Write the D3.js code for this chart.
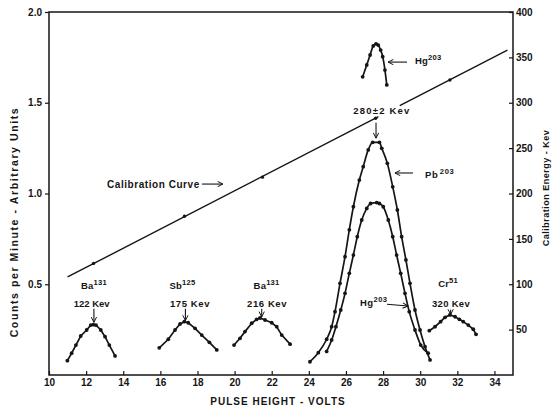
<!DOCTYPE html>
<html>
<head>
<meta charset="utf-8">
<script src="https://cdn.jsdelivr.net/npm/d3@7"></script>
<style>
  body { margin: 0; background: #fff; }
  svg text { font-family: "Liberation Sans", Arial, sans-serif; font-weight: bold; fill: #151515; }
</style>
</head>
<body>
<svg id="chart" width="552" height="410"></svg>
<script>
// tick values
const xTicks = [10, 12, 14, 16, 18, 20, 22, 24, 26, 28, 30, 32, 34];
const yTicksLeft = [0.5, 1.0, 1.5, 2.0];
const yTicksRight = [50, 100, 150, 200, 250, 300, 350, 400];

// calibration points (pulse height volts, energy kev)
const calVolts = [12.4, 17.3, 21.5, 27.6, 31.6];
const calKev = [123, 175, 218, 283, 325];
// drawn straight calibration line, ends and the gap left for the label
const calFitVolts = [11, 34.7];
const calFitKev = [108, 358];
const calGapVolts = [27.75, 28.9];

// spectra: pulse height (volts) and counts per minute
const ba122V = [10.99, 11.22, 11.45, 11.71, 12.03, 12.25, 12.39, 12.53, 12.79, 13.02, 13.25, 13.56];
const ba122C = [0.079, 0.12, 0.165, 0.215, 0.248, 0.275, 0.277, 0.275, 0.248, 0.211, 0.165, 0.105];
const sb175V = [15.94, 16.43, 16.79, 17.06, 17.29, 17.5, 17.87, 18.23, 18.64, 19.04];
const sb175C = [0.15, 0.197, 0.248, 0.281, 0.294, 0.288, 0.257, 0.22, 0.18, 0.138];
const ba216V = [19.97, 20.29, 20.56, 20.92, 21.19, 21.37, 21.64, 22.0, 22.27, 22.54, 22.99];
const ba216C = [0.165, 0.202, 0.239, 0.285, 0.307, 0.314, 0.303, 0.288, 0.266, 0.22, 0.17];
const pbV = [24.06, 24.51, 24.96, 25.23, 25.41, 25.68, 25.95, 26.18, 26.4, 26.72, 26.93, 27.2, 27.44,
             27.8, 27.93, 28.23, 28.52, 28.77, 29.0, 29.23, 29.45, 29.72, 29.99, 30.26, 30.53];
const pbC = [0.073, 0.123, 0.197, 0.266, 0.349, 0.505, 0.652, 0.8, 0.927, 1.074, 1.148, 1.24, 1.282,
             1.282, 1.249, 1.166, 1.037, 0.909, 0.762, 0.634, 0.505, 0.358, 0.248, 0.156, 0.083];
const hgV = [24.96, 25.23, 25.46, 25.72, 25.95, 26.18, 26.4, 26.61, 26.85, 27.12, 27.33, 27.66, 27.8,
             28.01, 28.28, 28.52, 28.73, 28.95, 29.18, 29.41, 29.72, 30.03, 30.43];
const hgC = [0.13, 0.193, 0.266, 0.358, 0.45, 0.56, 0.661, 0.762, 0.854, 0.918, 0.945, 0.95, 0.945,
             0.927, 0.854, 0.762, 0.661, 0.56, 0.45, 0.349, 0.248, 0.165, 0.12];
const hgTopV = [26.9, 27.12, 27.3, 27.47, 27.62, 27.74, 27.87, 27.98, 28.1, 28.2];
const hgTopC = [1.643, 1.708, 1.763, 1.813, 1.824, 1.818, 1.79, 1.754, 1.68, 1.598];
const crV = [30.49, 30.8, 31.1, 31.34, 31.6, 31.88, 32.11, 32.32, 32.59, 32.86, 33.01];
const crC = [0.244, 0.266, 0.294, 0.318, 0.331, 0.321, 0.307, 0.294, 0.275, 0.252, 0.224];

// text labels (volts, counts)
const labels = [
  { t: "Ba", sup: "131", v: 12.42, c: 0.474, a: "middle", size: 9.5, ls: 0.2 },
  { t: "122 Kev", v: 12.3, c: 0.375, a: "middle", size: 9.5, ls: 0 },
  { t: "Sb", sup: "125", v: 17.19, c: 0.474, a: "middle", size: 9.5, ls: 0.2 },
  { t: "175 Kev", v: 17.6, c: 0.375, a: "middle", size: 9.5, ls: 0.6 },
  { t: "Ba", sup: "131", v: 21.72, c: 0.474, a: "middle", size: 9.5, ls: 0.2 },
  { t: "216 Kev", v: 21.75, c: 0.375, a: "middle", size: 9.5, ls: 0.6 },
  { t: "Cr", sup: "51", v: 31.5, c: 0.485, a: "middle", size: 9.5, ls: 0.2 },
  { t: "320 Kev", v: 31.66, c: 0.377, a: "middle", size: 9.5, ls: 0.3 },
  { t: "280±2 Kev", v: 27.94, c: 1.438, a: "middle", size: 9.5, ls: 1.2 },
  { t: "Calibration Curve", v: 13.13, c: 1.03, a: "start", size: 10, ls: 0.55 },
  { t: "Pb", sup: "203", gap: 1.5, v: 30.26, c: 1.085, a: "start", size: 9.5, ls: 0.6 },
  { t: "Hg", sup: "203", v: 29.72, c: 1.713, a: "start", size: 9.5, ls: 0.2 },
  { t: "Hg", sup: "203", v: 26.76, c: 0.38, a: "start", size: 9.5, ls: 0.4 }
];
// arrows: from [volts, counts] to [volts, counts]
const arrows = [
  [[12.42, 0.365], [12.42, 0.29]],
  [[17.35, 0.365], [17.35, 0.3]],
  [[21.46, 0.365], [21.46, 0.32]],
  [[31.64, 0.36], [31.64, 0.333]],
  [[27.62, 1.39], [27.62, 1.305]],
  [[18.24, 1.052], [19.37, 1.052]],
  [[29.61, 1.113], [28.64, 1.113]],
  [[29.29, 1.724], [28.27, 1.724]],
  [[28.21, 0.39], [29.34, 0.38]]
];

const ink = "#151515";
const svg = d3.select("#chart");
const x = d3.scaleLinear().domain([10, 35]).range([49, 513]);
const y = d3.scaleLinear().domain([0, 2]).range([375, 12]);
const yR = d3.scaleLinear().domain([0, 400]).range([375, 12]);

svg.append("defs").append("marker")
  .attr("id", "ah").attr("viewBox", "0 0 10 10").attr("refX", 9).attr("refY", 5)
  .attr("markerWidth", 6).attr("markerHeight", 6).attr("orient", "auto")
  .append("path").attr("d", "M1,1 L9,5 L1,9")
  .attr("fill", "none").attr("stroke", ink).attr("stroke-width", 1.5);

// frame
svg.append("rect")
  .attr("x", x(10)).attr("y", y(2))
  .attr("width", x(35) - x(10)).attr("height", y(0) - y(2))
  .attr("fill", "none").attr("stroke", ink).attr("stroke-width", 1.5);

// axes
const gx = svg.append("g").attr("transform", `translate(0,${y(0)})`)
  .call(d3.axisBottom(x).tickValues(xTicks).tickSize(-4).tickPadding(4));
const gl = svg.append("g").attr("transform", `translate(${x(10)},0)`)
  .call(d3.axisLeft(y).tickValues(yTicksLeft).tickFormat(d3.format(".1f")).tickSize(4).tickPadding(3));
const gr = svg.append("g").attr("transform", `translate(${x(35)},0)`)
  .call(d3.axisRight(yR).tickValues(yTicksRight).tickSize(-4).tickPadding(3));
[gx, gl, gr].forEach(g => {
  g.select(".domain").remove();
  g.selectAll(".tick line").attr("stroke", ink).attr("stroke-width", 1.2);
  g.selectAll(".tick text").style("font-size", "10px").attr("fill", ink);
});

// axis titles
svg.append("text").attr("x", 278).attr("y", 405).attr("text-anchor", "middle")
  .style("font-size", "10px").style("letter-spacing", "1px").text("PULSE HEIGHT - VOLTS");
svg.append("text").attr("transform", "translate(18,222) rotate(-90)").attr("text-anchor", "middle")
  .style("font-size", "10.5px").style("letter-spacing", "1.6px").text("Counts per Minute - Arbitrary Units");
svg.append("text").attr("transform", "translate(549,188) rotate(-90)").attr("text-anchor", "middle")
  .style("font-size", "9px").style("letter-spacing", "0.5px").text("Calibration Energy - Kev");

// calibration line
const kevAt = v => calFitKev[0] + (v - calFitVolts[0]) * (calFitKev[1] - calFitKev[0]) / (calFitVolts[1] - calFitVolts[0]);
const calSegs = [[calFitVolts[0], calGapVolts[0]], [calGapVolts[1], calFitVolts[1]]];
svg.append("g").selectAll("line").data(calSegs).join("line")
  .attr("x1", d => x(d[0])).attr("y1", d => yR(kevAt(d[0])))
  .attr("x2", d => x(d[1])).attr("y2", d => yR(kevAt(d[1])))
  .attr("stroke", ink).attr("stroke-width", 1.4);
svg.append("g").selectAll("circle").data(d3.zip(calVolts, calKev)).join("circle")
  .attr("cx", d => x(d[0])).attr("cy", d => yR(d[1])).attr("r", 1.7).attr("fill", ink);

// spectra
const series = [
  { v: ba122V, c: ba122C, curve: d3.curveLinear },
  { v: sb175V, c: sb175C, curve: d3.curveLinear },
  { v: ba216V, c: ba216C, curve: d3.curveLinear },
  { v: pbV, c: pbC, curve: d3.curveMonotoneX },
  { v: hgV, c: hgC, curve: d3.curveMonotoneX },
  { v: hgTopV, c: hgTopC, curve: d3.curveMonotoneX },
  { v: crV, c: crC, curve: d3.curveLinear }
];
series.forEach(s => {
  const pts = d3.zip(s.v, s.c);
  const line = d3.line().x(d => x(d[0])).y(d => y(d[1])).curve(s.curve);
  svg.append("path").attr("d", line(pts))
    .attr("fill", "none").attr("stroke", ink).attr("stroke-width", 1.7);
  svg.append("g").selectAll("circle").data(pts).join("circle")
    .attr("cx", d => x(d[0])).attr("cy", d => y(d[1])).attr("r", 1.9).attr("fill", ink);
});

// arrows
svg.append("g").selectAll("line").data(arrows).join("line")
  .attr("x1", d => x(d[0][0])).attr("y1", d => y(d[0][1]))
  .attr("x2", d => x(d[1][0])).attr("y2", d => y(d[1][1]))
  .attr("stroke", ink).attr("stroke-width", 1.1).attr("marker-end", "url(#ah)");

// labels
labels.forEach(l => {
  const t = svg.append("text")
    .attr("x", x(l.v)).attr("y", y(l.c)).attr("text-anchor", l.a)
    .style("font-size", l.size + "px").style("letter-spacing", l.ls + "px");
  t.append("tspan").text(l.t);
  if (l.sup) {
    t.append("tspan").attr("dy", -4).attr("dx", l.gap || 0)
      .style("font-size", (l.size * 0.8) + "px").text(l.sup);
  }
});
</script>
</body>
</html>
